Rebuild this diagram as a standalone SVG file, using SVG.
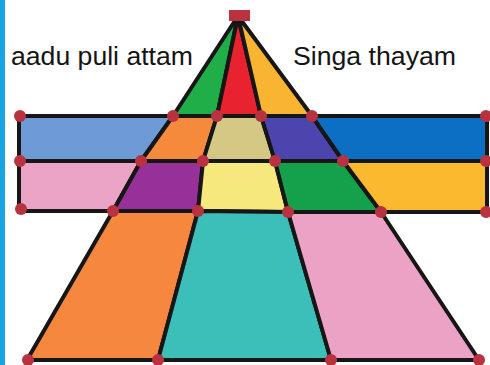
<svg xmlns="http://www.w3.org/2000/svg" width="490" height="365" viewBox="0 0 490 365">
<style>
.p{stroke:#161616;stroke-width:4;stroke-linejoin:round}
.m{fill:#b8323f}
.t{font-family:"Liberation Sans",Arial,sans-serif;font-size:26px;fill:#141414}
</style>
<rect x="0" y="0" width="490" height="365" fill="#ffffff"/>
<rect x="0" y="0" width="5" height="365" fill="#1aa3e3"/>
<g id="labels">
<text class="t" x="11" y="65" textLength="182" lengthAdjust="spacingAndGlyphs">aadu puli attam</text>
<text class="t" x="293" y="65" textLength="163" lengthAdjust="spacingAndGlyphs">Singa thayam</text>
</g>
<g id="apex">
<polygon id="apex-green" class="p" fill="#1fae48" points="238,16 173,116 217,116"/>
<polygon id="apex-red" class="p" fill="#e8232f" points="238,16 217,116 261,116"/>
<polygon id="apex-yellow" class="p" fill="#f9b531" points="238,16 261,116 312,116"/>
</g>
<g id="row1">
<polygon class="p" fill="#6e9bd6" points="19,116 173,116 141,161 19,161"/>
<polygon class="p" fill="#f58a3c" points="173,116 217,116 203,161 141,161"/>
<polygon class="p" fill="#d5c784" points="217,116 261,116 275,161 203,161"/>
<polygon class="p" fill="#4b45ad" points="261,116 312,116 343,161 275,161"/>
<polygon class="p" fill="#0d6fc3" points="312,116 487,116 487,161 343,161"/>
</g>
<g id="row2">
<polygon class="p" fill="#eba3c6" points="19,161 141,161 113,211 19,211"/>
<polygon class="p" fill="#98309a" points="141,161 203,161 198,211 113,211"/>
<polygon class="p" fill="#f6e87c" points="203,161 275,161 288,212 198,211"/>
<polygon class="p" fill="#15a04c" points="275,161 343,161 381,212 288,212"/>
<polygon class="p" fill="#fbb92f" points="343,161 487,161 487,212 381,212"/>
</g>
<g id="row3">
<polygon class="p" fill="#f5883e" points="113,211 198,211 158,360 27,360"/>
<polygon class="p" fill="#3cbfb9" points="198,211 288,212 331,360 158,360"/>
<polygon class="p" fill="#eca2c5" points="288,212 381,212 479,360 331,360"/>
</g>
<g id="markers">
<rect class="m" x="229" y="10" width="21" height="11"/>
<circle class="m" cx="20" cy="116" r="6"/>
<circle class="m" cx="173" cy="116" r="6"/>
<circle class="m" cx="217" cy="116" r="6"/>
<circle class="m" cx="261" cy="116" r="6"/>
<circle class="m" cx="312" cy="116" r="6"/>
<circle class="m" cx="486" cy="116" r="6"/>
<circle class="m" cx="20" cy="161" r="6"/>
<circle class="m" cx="141" cy="161" r="6"/>
<circle class="m" cx="203" cy="161" r="6"/>
<circle class="m" cx="275" cy="161" r="6"/>
<circle class="m" cx="343" cy="161" r="6"/>
<circle class="m" cx="486" cy="161" r="6"/>
<circle class="m" cx="21" cy="209" r="6"/>
<circle class="m" cx="113" cy="211" r="6"/>
<circle class="m" cx="198" cy="211" r="6"/>
<circle class="m" cx="288" cy="212" r="6"/>
<circle class="m" cx="381" cy="212" r="6"/>
<circle class="m" cx="486" cy="212" r="6"/>
<circle class="m" cx="28" cy="360" r="6"/>
<circle class="m" cx="158" cy="360" r="6"/>
<circle class="m" cx="331" cy="360" r="6"/>
<circle class="m" cx="479" cy="360" r="6"/>
</g>
</svg>
